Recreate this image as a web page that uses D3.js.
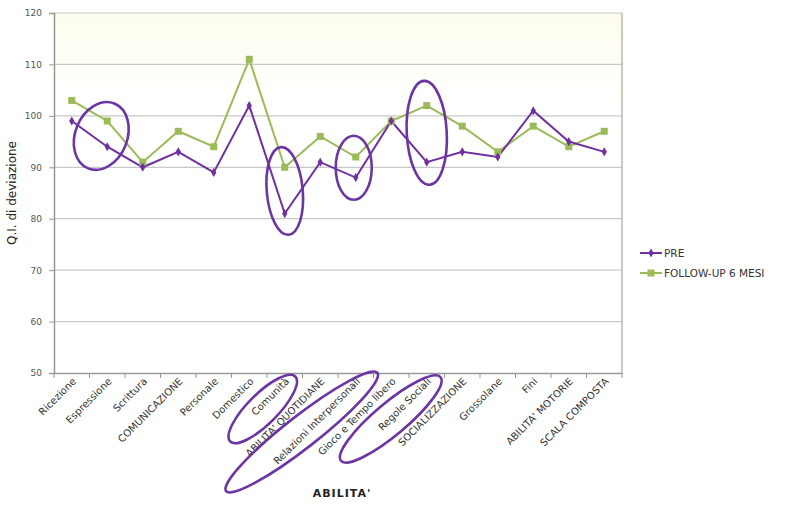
<!DOCTYPE html>
<html><head><meta charset="utf-8">
<script src="https://cdn.jsdelivr.net/npm/d3@7"></script>
<style>body{margin:0;background:#fff}svg{display:block}text{font-family:"DejaVu Sans",sans-serif}</style>
</head><body><svg id="c" width="803" height="517"></svg>
<script>
const categories=["Ricezione","Espressione","Scrittura","COMUNICAZIONE","Personale","Domestico","Comunità","ABILITA' QUOTIDIANE","Relazioni Interpersonali","Gioco e Tempo libero","Regole Sociali","SOCIALIZZAZIONE","Grossolane","Fini","ABILITA' MOTORIE","SCALA COMPOSTA"];
const pre=[99,94,90,93,89,102,81,91,88,99,91,93,92,101,95,93];
const follow=[103,99,91,97,94,111,90,96,92,99,102,98,93,98,94,97];
const yTicks=[50,60,70,80,90,100,110,120];
const seriesNames=["PRE","FOLLOW-UP 6 MESI"];
// hand-drawn annotation ellipses: [category, value, rx, ry, angle, dx]
const dataCircles=[["Espressione",96.1,26,35,22,-6],["Comunità",85.4,18,44,-5,0],["Relazioni Interpersonali",89.9,18,32,0,-2],["Regole Sociali",96.7,20,52,-3,0]];
// label ellipses: [category, dx, dy, rx, ry, angle]
const labelCircles=[["Comunità",-22,36,46,15,-45],["Relazioni Interpersonali",-54,59,96,16,-38],["Regole Sociali",-36,46,65,16,-40]];

const svg=d3.select("#c");
const L=54,R=622,T=13,B=373;
const x=d3.scaleBand().domain(categories).range([L,R]).padding(0);
const cx=c=>x(c)+x.bandwidth()/2;
const y=d3.scaleLinear().domain([50,120]).range([B,T]);
const purple="#7030a0",green="#9bbb59";

const defs=svg.append("defs");
const g=defs.append("linearGradient").attr("id","bg").attr("x1",0).attr("x2",0).attr("y1",0).attr("y2",1);
g.append("stop").attr("offset","0%").attr("stop-color","#fdfdee");
g.append("stop").attr("offset","25%").attr("stop-color","#ffffff");
svg.append("rect").attr("x",L).attr("y",T).attr("width",R-L).attr("height",B-T).attr("fill","url(#bg)");

svg.append("g").selectAll("line").data(yTicks.slice(1)).join("line")
 .attr("x1",L).attr("x2",R).attr("y1",d=>y(d)).attr("y2",d=>y(d)).attr("stroke","#c8c8c8").attr("stroke-width",1.2);
svg.append("line").attr("x1",R).attr("x2",R).attr("y1",T).attr("y2",B).attr("stroke","#b5bca0").attr("stroke-width",1.5);

const ya=svg.append("g").attr("transform",`translate(${L},0)`).call(d3.axisLeft(y).tickValues(yTicks).tickSize(5).tickPadding(7));
ya.select(".domain").attr("stroke","#999").attr("stroke-width",1.5);
ya.selectAll(".tick line").attr("stroke","#999");
ya.selectAll("text").attr("font-size",9).attr("fill","#555");

const xa=svg.append("g").attr("transform",`translate(0,${B})`).call(d3.axisBottom(x).tickSize(0).tickFormat(""));
xa.select(".domain").attr("stroke","#999").attr("stroke-width",1.5);
svg.append("g").selectAll("line").data(categories.concat([null])).join("line")
 .attr("x1",(d,i)=>L+i*x.bandwidth()).attr("x2",(d,i)=>L+i*x.bandwidth()).attr("y1",B).attr("y2",B+5).attr("stroke","#999");

svg.append("g").selectAll("text").data(categories).join("text")
 .attr("transform",d=>`translate(${cx(d)+5},${B+9}) rotate(-45)`)
 .attr("text-anchor","end").attr("font-size",10).attr("fill","#333").text(d=>d);

const line=d3.line().x((d,i)=>cx(categories[i])).y(d=>y(d));
svg.append("path").datum(follow).attr("d",line).attr("fill","none").attr("stroke",green).attr("stroke-width",2);
svg.append("path").datum(pre).attr("d",line).attr("fill","none").attr("stroke",purple).attr("stroke-width",2);
svg.append("g").selectAll("rect").data(follow).join("rect")
 .attr("x",(d,i)=>cx(categories[i])-3.5).attr("y",d=>y(d)-3.5).attr("width",7).attr("height",7).attr("fill",green);
svg.append("g").selectAll("path").data(pre).join("path")
 .attr("d",d3.symbol(d3.symbolDiamond,24)).attr("transform",(d,i)=>`translate(${cx(categories[i])},${y(d)})`).attr("fill",purple);

const ec="#6b35a3";
svg.append("g").selectAll("ellipse").data(dataCircles).join("ellipse")
 .attr("transform",d=>`translate(${cx(d[0])+d[5]},${y(d[1])}) rotate(${d[4]})`)
 .attr("rx",d=>d[2]).attr("ry",d=>d[3]).attr("fill","none").attr("stroke",ec).attr("stroke-width",2.6);
svg.append("g").selectAll("ellipse").data(labelCircles).join("ellipse")
 .attr("transform",d=>`translate(${cx(d[0])+d[1]},${B+d[2]}) rotate(${d[5]})`)
 .attr("rx",d=>d[3]).attr("ry",d=>d[4]).attr("fill","none").attr("stroke",ec).attr("stroke-width",2.6);

svg.append("text").attr("transform","translate(16,193) rotate(-90)").attr("text-anchor","middle")
 .attr("font-size",12).attr("fill","#222").text("Q.I. di deviazione");
svg.append("text").attr("x",342).attr("y",497).attr("text-anchor","middle").attr("font-size",11).attr("font-weight","bold").attr("letter-spacing",1).attr("fill","#222").text("ABILITA'");

const lg=svg.append("g").attr("transform","translate(640,253)");
[purple,green].forEach((c,i)=>{
 const r=lg.append("g").attr("transform",`translate(0,${i*20})`);
 r.append("line").attr("x1",0).attr("x2",22).attr("stroke",c).attr("stroke-width",2);
 if(i===0) r.append("path").attr("d",d3.symbol(d3.symbolDiamond,24)).attr("transform","translate(11,0)").attr("fill",c);
 else r.append("rect").attr("x",7.5).attr("y",-3.5).attr("width",7).attr("height",7).attr("fill",c);
 r.append("text").attr("x",24).attr("y",4).attr("font-size",10.5).attr("fill","#333").text(seriesNames[i]);
});
</script></body></html>
